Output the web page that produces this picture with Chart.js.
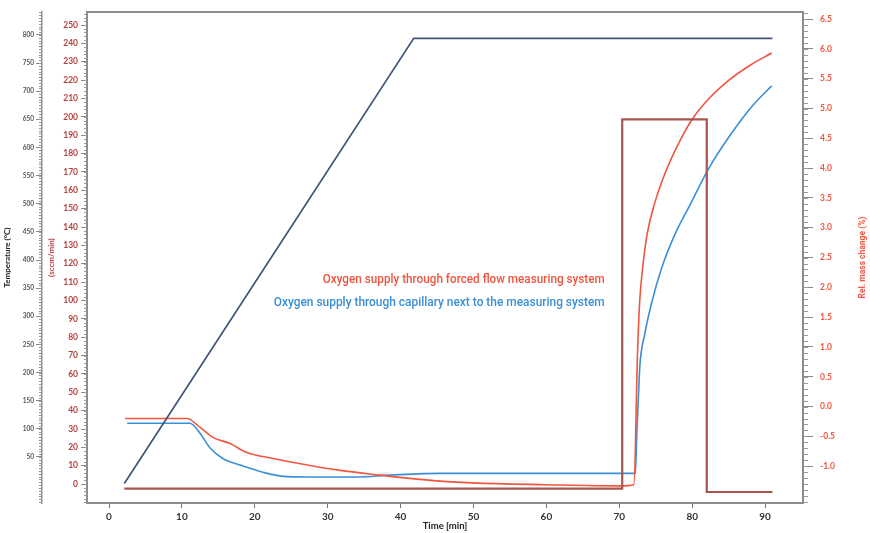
<!DOCTYPE html>
<html>
<head>
<meta charset="utf-8">
<script src="https://cdn.jsdelivr.net/npm/chart.js@4.4.1/dist/chart.umd.min.js"></script>
<style>
html,body{margin:0;padding:0;background:#fff;}
canvas{display:block;}
</style>
</head>
<body>
<canvas id="c" width="870" height="533"></canvas>
<script>
// ---- tick labels ----
const timeTicks = [0, 10, 20, 30, 40, 50, 60, 70, 80, 90];
const tempTicks = [50, 100, 150, 200, 250, 300, 350, 400, 450, 500, 550, 600, 650, 700, 750, 800];
const flowTicks = [0, 10, 20, 30, 40, 50, 60, 70, 80, 90, 100, 110, 120, 130, 140, 150, 160, 170, 180, 190, 200, 210, 220, 230, 240, 250];
const massTicks = [-1.0, -0.5, 0.0, 0.5, 1.0, 1.5, 2.0, 2.5, 3.0, 3.5, 4.0, 4.5, 5.0, 5.5, 6.0, 6.5];

// ---- series ----
const tempTime = [2.1, 41.8, 91.0];
const tempValues = [3, 794, 794];

const flowTime = [2.1, 70.4, 70.4, 82.0, 82.0, 91.0];
const flowValues = [-2.5, -2.5, 198.6, 198.6, -4.3, -4.3];

const forcedTime = [2.2, 10.7, 12.5, 14.3, 16.6, 18.9, 22.5, 27.2, 31.7, 37.2, 40.9, 45.4, 49.9, 59.9, 70.1, 72.0, 72.5, 72.8, 73.2, 73.8, 74.9, 76.5, 78.7, 80.0, 81.8, 85.0, 88.0, 90.9];
const forcedMass = [-0.2, -0.2, -0.35, -0.52, -0.62, -0.77, -0.87, -0.98, -1.07, -1.15, -1.2, -1.25, -1.28, -1.31, -1.33, -1.31, 0.9, 1.77, 2.32, 2.88, 3.43, 3.98, 4.55, 4.82, 5.1, 5.47, 5.73, 5.93];

const capTime = [2.5, 11.1, 12.5, 13.9, 15.6, 18.0, 21.1, 23.9, 27.2, 34.0, 38.5, 45.4, 59.9, 72.2, 72.4, 72.6, 72.8, 73.5, 74.5, 75.8, 77.6, 79.9, 82.2, 85.2, 88.3, 90.9];
const capMass = [-0.28, -0.28, -0.45, -0.7, -0.87, -0.98, -1.1, -1.17, -1.18, -1.18, -1.15, -1.12, -1.12, -1.12, -0.45, 0.1, 0.65, 1.22, 1.77, 2.32, 2.88, 3.43, 3.98, 4.55, 5.05, 5.38];

const seriesLabels = [
  'Oxygen supply through forced flow measuring system',
  'Oxygen supply through capillary next to the measuring system'
];
const axisTitles = ['Time [min]', 'Temperature (°C)', '(sccm/min)', 'Rel. mass change (%)'];

const pts = (xs, ys) => xs.map((x, i) => ({x: x, y: ys[i]}));

const COL_TEMP = '#3f5677';
const COL_FLOW = '#a8554f';
const COL_RED = '#f0553f';
const COL_BLUE = '#3a8fd6';
const AXIS = '#8c8c8c';
const FONT = "'Lato', 'Roboto', sans-serif";

const minorTicks = [
  {id: 'yTemp', step: 5, len: 3, side: 'left'},
  {id: 'yFlow', step: 2, len: 3, side: 'left'},
  {id: 'yMass', step: 0.1, len: 5, side: 'right'}
];

const extras = {
  id: 'extras',
  afterDraw(chart) {
    const ctx = chart.ctx;
    const ca = chart.chartArea;
    ctx.save();
    ctx.strokeStyle = AXIS;
    ctx.lineWidth = 2;
    ctx.beginPath();
    ctx.moveTo(ca.left - 1, ca.top);
    ctx.lineTo(ca.right + 1, ca.top);
    ctx.stroke();
    ctx.lineWidth = 1;
    ctx.strokeStyle = '#9a9a9a';
    minorTicks.forEach(m => {
      const s = chart.scales[m.id];
      const start = Math.ceil(s.min / m.step);
      const end = Math.floor(s.max / m.step);
      const xEdge = m.side === 'left' ? s.right : s.left;
      ctx.beginPath();
      for (let k = start; k <= end; k++) {
        const y = Math.round(s.getPixelForValue(k * m.step)) + 0.5;
        if (m.side === 'left') { ctx.moveTo(xEdge, y); ctx.lineTo(xEdge - m.len, y); }
        else { ctx.moveTo(xEdge, y); ctx.lineTo(xEdge + m.len, y); }
      }
      ctx.stroke();
    });
    const sm = chart.scales.yMass;
    ctx.fillStyle = COL_RED;
    ctx.font = "bold 8.5px 'Roboto', sans-serif";
    ctx.textAlign = 'center';
    ctx.textBaseline = 'middle';
    ctx.translate(sm.right - 7, (ca.top + ca.bottom) / 2);
    ctx.rotate(-Math.PI / 2);
    ctx.fillText(axisTitles[3], 0, 0);
    ctx.restore();

    const xs = chart.scales.x;
    const rightX = xs.getPixelForValue(68.0);
    const entries = [
      {text: seriesLabels[0], color: COL_RED, y: 280, width: 282},
      {text: seriesLabels[1], color: COL_BLUE, y: 303, width: 331}
    ];
    entries.forEach(e => {
      ctx.save();
      ctx.font = "500 13px 'Roboto', sans-serif";
      const w = ctx.measureText(e.text).width;
      const sx = e.width / w;
      ctx.translate(rightX, e.y);
      ctx.scale(sx, 1);
      ctx.fillStyle = e.color;
      ctx.textAlign = 'right';
      ctx.textBaseline = 'middle';
      ctx.fillText(e.text, 0, 0);
      ctx.restore();
    });
  }
};

new Chart(document.getElementById('c'), {
  type: 'line',
  data: {
    datasets: [
      {label: 'Temperature', data: pts(tempTime, tempValues), yAxisID: 'yTemp', borderColor: COL_TEMP, borderWidth: 1.7, pointRadius: 0, tension: 0},
      {label: 'Gas flow', data: pts(flowTime, flowValues), yAxisID: 'yFlow', borderColor: COL_FLOW, borderWidth: 2.2, pointRadius: 0, tension: 0},
      {label: seriesLabels[0], data: pts(forcedTime, forcedMass), yAxisID: 'yMass', borderColor: COL_RED, borderWidth: 1.6, pointRadius: 0, cubicInterpolationMode: 'monotone'},
      {label: seriesLabels[1], data: pts(capTime, capMass), yAxisID: 'yMass', borderColor: COL_BLUE, borderWidth: 1.6, pointRadius: 0, cubicInterpolationMode: 'monotone'}
    ]
  },
  options: {
    responsive: false,
    animation: false,
    devicePixelRatio: 1,
    layout: {padding: {top: 9, left: 0, right: 0, bottom: 0}},
    plugins: {legend: {display: false}, tooltip: {enabled: false}},
    scales: {
      x: {
        type: 'linear', position: 'bottom', min: -3.02, max: 95.2,
        afterBuildTicks: s => { s.ticks = timeTicks.map(v => ({value: v})); },
        afterFit: s => { s.height = 30; },
        grid: {drawOnChartArea: false, drawTicks: true, tickLength: 5, tickColor: '#777', tickWidth: 1},
        border: {display: true, color: AXIS, width: 2},
        ticks: {color: '#333', font: {size: 10, weight: 'bold', family: FONT}, padding: 3, maxRotation: 0, autoSkip: false, callback: v => String(v)},
        title: {display: true, text: axisTitles[0], color: '#222', font: {size: 9.5, weight: 'bold', family: FONT}, padding: {top: 0, bottom: 1}}
      },
      yTemp: {
        type: 'linear', position: 'left', weight: 2, min: -31.8, max: 840.6,
        afterBuildTicks: s => { s.ticks = tempTicks.map(v => ({value: v})); },
        afterFit: s => { s.width = 42; },
        grid: {drawOnChartArea: false, drawTicks: true, tickLength: 6, tickColor: '#888', tickWidth: 1},
        border: {display: true, color: AXIS, width: 1.5},
        ticks: {color: '#555', font: {size: 6.5, weight: 'bold', family: FONT}, padding: 2, autoSkip: false, callback: v => String(v)},
        title: {display: true, text: axisTitles[1], color: '#222', font: {size: 8, weight: 'bold', family: FONT}, padding: {top: 3, bottom: 0}}
      },
      yFlow: {
        type: 'linear', position: 'left', weight: 1, min: -10.28, max: 257.03,
        afterBuildTicks: s => { s.ticks = flowTicks.map(v => ({value: v})); },
        afterFit: s => { s.width = 45; },
        grid: {drawOnChartArea: false, drawTicks: true, tickLength: 6, tickColor: '#888', tickWidth: 1},
        border: {display: true, color: AXIS, width: 2},
        ticks: {color: '#b3423e', font: {size: 8.5, weight: 'bold', family: FONT}, padding: 3, autoSkip: false, callback: v => String(v)},
        title: {display: true, text: axisTitles[2], color: '#b3423e', font: {size: 8, weight: 'bold', family: FONT}, padding: {top: 5, bottom: 0}}
      },
      yMass: {
        type: 'linear', position: 'right', min: -1.617, max: 6.617,
        afterBuildTicks: s => { s.ticks = massTicks.map(v => ({value: v})); },
        afterFit: s => { s.width = 67; },
        grid: {drawOnChartArea: false, drawTicks: true, tickLength: 10, tickColor: '#888', tickWidth: 1},
        border: {display: true, color: AXIS, width: 2},
        ticks: {color: COL_RED, font: {size: 8.5, weight: 'bold', family: FONT}, padding: 7, autoSkip: false, callback: v => Number(v).toFixed(1)},
        title: {display: false}
      }
    }
  },
  plugins: [extras]
});
</script>
</body>
</html>
